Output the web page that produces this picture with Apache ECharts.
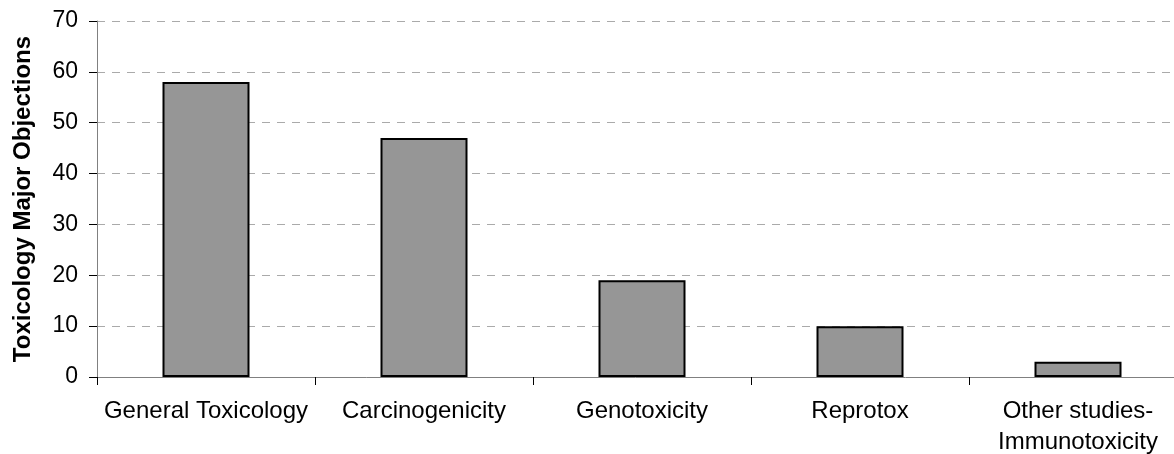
<!DOCTYPE html>
<html>
<head>
<meta charset="utf-8">
<script src="https://cdn.jsdelivr.net/npm/echarts@6/dist/echarts.min.js"></script>
<style>
html,body{margin:0;padding:0;background:#fff;}
#chart{width:1174px;height:454px;}
</style>
</head>
<body>
<div id="chart"></div>
<script>
const categories = ['General Toxicology', 'Carcinogenicity', 'Genotoxicity', 'Reprotox', 'Other studies-\nImmunotoxicity'];
const values = [58, 47, 19, 10, 3];
const yAxisName = 'Toxicology Major Objections';

const chart = echarts.init(document.getElementById('chart'), null, {renderer: 'canvas'});
chart.setOption({
  animation: false,
  backgroundColor: '#ffffff',
  grid: {left: 97, width: 1090, top: 21, bottom: 77, containLabel: false, outerBoundsMode: 'none'},
  xAxis: {
    type: 'category',
    data: categories,
    boundaryGap: true,
    axisLine: {lineStyle: {color: '#808080', width: 1}},
    axisTick: {show: true, length: 8, lineStyle: {color: '#000', width: 1}},
    axisLabel: {color: '#000', fontFamily: 'Liberation Sans', fontSize: 24, margin: 19, lineHeight: 31, interval: 0}
  },
  yAxis: {
    type: 'value',
    min: 0, max: 70, interval: 10,
    name: yAxisName,
    nameLocation: 'middle',
    nameGap: 62,
    nameTextStyle: {color: '#000', fontFamily: 'Liberation Sans', fontSize: 24, fontWeight: 'bold'},
    axisLine: {show: true, lineStyle: {color: '#808080', width: 1}},
    axisTick: {show: true, length: 8, lineStyle: {color: '#000', width: 1}},
    axisLabel: {color: '#000', fontFamily: 'Liberation Sans', fontSize: 23, margin: 19},
    splitLine: {show: true, lineStyle: {color: '#aaaaaa', type: [8, 7], width: 1}}
  },
  series: [{
    type: 'bar',
    data: values,
    barWidth: 87,
    itemStyle: {color: '#969696', borderColor: '#000', borderWidth: 2}
  }]
});
</script>
</body>
</html>
